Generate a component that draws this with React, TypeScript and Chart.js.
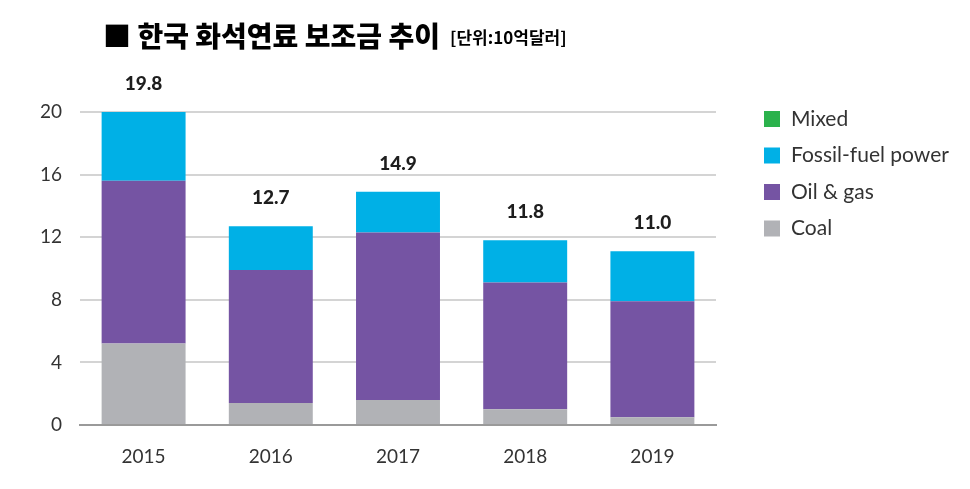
import React, { useEffect, useRef } from "react";
import { Chart, registerables } from "chart.js";

Chart.register(...registerables);

const CATEGORIES = ["2015", "2016", "2017", "2018", "2019"];
const COAL = [5.2, 1.4, 1.6, 1.0, 0.5];
const OIL_GAS = [10.4, 8.5, 10.7, 8.1, 7.4];
const FOSSIL_POWER = [4.4, 2.8, 2.6, 2.7, 3.2];
const MIXED = [0, 0, 0, 0, 0];
const TOTAL_LABELS = ["19.8", "12.7", "14.9", "11.8", "11.0"];
const Y_MIN = 0;
const Y_MAX = 20;
const Y_STEP = 4;
const TITLE = "■ 한국 화석연료 보조금 추이";
const UNIT = "[단위:10억달러]";

const COLORS = {
  mixed: "#2bb24c",
  fossil: "#00b0e6",
  oil: "#7554a3",
  coal: "#b1b2b6",
};

const LATIN = "Lato, 'Noto Sans', sans-serif";
const KR = "'Noto Sans CJK KR', sans-serif";

const extrasPlugin = {
  id: "extras",
  afterDatasetsDraw(chart: any) {
    const ctx = chart.ctx;
    ctx.save();
    // value labels above stacks
    const topMeta = chart.getDatasetMeta(2);
    ctx.fillStyle = "#1e1e1e";
    ctx.font = `900 19px ${LATIN}`;
    ctx.textAlign = "center";
    ctx.textBaseline = "middle";
    topMeta.data.forEach((bar: any, i: number) => {
      ctx.fillText(TOTAL_LABELS[i], bar.x, bar.y - 28);
    });

    // title
    ctx.textAlign = "left";
    ctx.textBaseline = "alphabetic";
    ctx.fillStyle = "#000";
    ctx.font = `900 28px ${KR}`;
    ctx.fillText(TITLE, 103, 47);
    const w = ctx.measureText(TITLE).width;
    ctx.font = `bold 17px ${KR}`;
    ctx.fillText(UNIT, 103 + w + 10, 44);

    // legend (reverse of stack order)
    const items = [...chart.data.datasets].reverse();
    ctx.font = `21px ${LATIN}`;
    ctx.textBaseline = "middle";
    items.forEach((ds: any, i: number) => {
      const cy = 119 + i * 36.5;
      ctx.fillStyle = ds.backgroundColor;
      ctx.fillRect(764, cy - 8, 16, 16);
      ctx.fillStyle = "#333";
      ctx.fillText(ds.label, 791, cy);
    });
    ctx.restore();
  },
};

export default function App() {
  const ref = useRef<HTMLCanvasElement | null>(null);

  useEffect(() => {
    document.body.style.margin = "0";
    const chart = new Chart(ref.current as HTMLCanvasElement, {
      type: "bar",
      data: {
        labels: CATEGORIES,
        datasets: [
          { label: "Coal", data: COAL, backgroundColor: COLORS.coal },
          { label: "Oil & gas", data: OIL_GAS, backgroundColor: COLORS.oil },
          { label: "Fossil-fuel power", data: FOSSIL_POWER, backgroundColor: COLORS.fossil },
          { label: "Mixed", data: MIXED, backgroundColor: COLORS.mixed },
        ],
      },
      options: {
        responsive: false,
        animation: false,
        layout: { padding: { top: 112, right: 254, bottom: 0, left: 0 } },
        datasets: { bar: { categoryPercentage: 1, barPercentage: 0.66, borderWidth: 0 } },
        plugins: { legend: { display: false }, tooltip: { enabled: false }, title: { display: false } },
        scales: {
          x: {
            stacked: true,
            afterFit: (scale: any) => {
              scale.height = 64;
            },
            grid: { display: false },
            border: { display: true, color: "#9a9a9a", width: 2 },
            ticks: { color: "#333", font: { family: LATIN, size: 19 }, padding: 12 },
          },
          y: {
            stacked: true,
            min: Y_MIN,
            max: Y_MAX,
            afterFit: (scale: any) => {
              scale.width = 80;
            },
            border: { display: false },
            grid: { color: "#d4d4d4", lineWidth: 2, drawTicks: false },
            ticks: {
              stepSize: Y_STEP,
              color: "#333",
              font: { family: LATIN, size: 19 },
              padding: 18,
            },
          },
        },
      },
      plugins: [extrasPlugin],
    });
    return () => chart.destroy();
  }, []);

  return (
    <div style={{ width: 970, height: 489 }}>
      <canvas ref={ref} width={970} height={489} />
    </div>
  );
}
